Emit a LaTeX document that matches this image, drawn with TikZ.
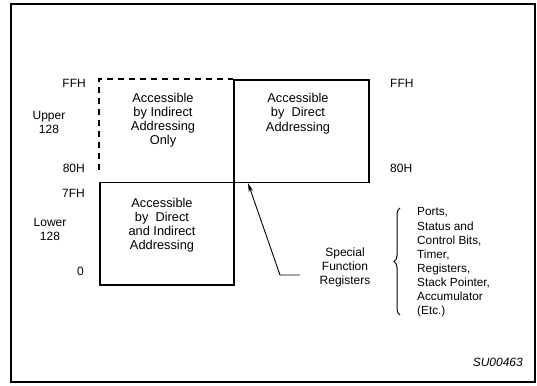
\documentclass[tikz,border=0pt]{standalone}
\usepackage{fontspec}
\setmainfont{Liberation Sans}
\usetikzlibrary{arrows.meta,decorations.pathreplacing}
\begin{document}
\begin{tikzpicture}[x=1pt,y=-1pt,
  frame/.style={line width=2.2pt},
  boxline/.style={line width=1.8pt},
  dashline/.style={line width=1.8pt, dash pattern=on 6pt off 5pt},
  boxtext/.style={align=center, font=\fontsize{12.8}{14.2}\selectfont, inner sep=0pt},
  lbl/.style={font=\fontsize{12}{14}\selectfont, inner sep=0pt},
  lst/.style={align=left, font=\fontsize{11.8}{14.1}\selectfont, inner sep=0pt}]
\useasboundingbox (0,0) rectangle (537,385);
\fill[white] (0,0) rectangle (537,385);
\draw[frame] (11,4) rectangle (535,382);
% boxes
\node[boxline, draw, anchor=north west, minimum width=135pt, minimum height=102.5pt, inner sep=0pt] (ur) at (233,79) {};
\node[boxline, draw, anchor=north west, minimum width=134pt, minimum height=102.5pt, inner sep=0pt] (lo) at (99,181.5) {};
\coordinate (dtop) at (99,79);
\coordinate (dbot) at (99,170);
\draw[dashline] (dbot) -- (dtop) -- (ur.north west);
% box texts
\node[boxtext] (t1) at (163,120) {Accessible\\by Indirect\\Addressing\\Only};
\node[boxtext] (t2) at (298,113.5) {Accessible\\by\ \ Direct\\Addressing};
\node[boxtext] (t3) at (162,225) {Accessible\\by\ \ Direct\\and Indirect\\Addressing};
% left labels
\node[lbl, anchor=east] (ffhl) at (86,83) {FFH};
\node[lbl, anchor=east] (h80l) at (85,168) {80H};
\node[lbl, anchor=east] (h7f) at (85,193) {7FH};
\node[lbl, anchor=east] (zero) at (84,271) {0};
\node[lbl, align=center] (upper) at (49,122.5) {Upper\\128};
\node[lbl, align=center] (lower) at (50,229.5) {Lower\\128};
% right labels
\node[lbl, anchor=west] (ffhr) at (390,83) {FFH};
\node[lbl, anchor=west] (h80r) at (390,168.5) {80H};
% special function registers
\node[lbl, align=center, font=\fontsize{12}{14.2}\selectfont] (sfr) at (345,267.5) {Special\\Function\\Registers};
\coordinate (a1) at (300,275);
\coordinate (a2) at (280,275);
\coordinate (tip) at (248,183);
\draw[line width=0.9pt, -{Stealth[length=9pt,width=4.5pt]}] (a1) -- (a2) -- (tip);
% brace and list
\coordinate (bb) at (400,315);
\coordinate (bt) at (400,208);
\draw[line width=1pt, decorate, decoration={brace, amplitude=6pt}] (bb) -- (bt);
\node[lst, anchor=west] (list) at (417,262.5) {Ports,\\Status and\\Control Bits,\\Timer,\\Registers,\\Stack Pointer,\\Accumulator\\(Etc.)};
\node[lbl, anchor=east, font=\itshape\fontsize{12}{14}\selectfont] (code) at (523,362) {SU00463};
\end{tikzpicture}
\end{document}
